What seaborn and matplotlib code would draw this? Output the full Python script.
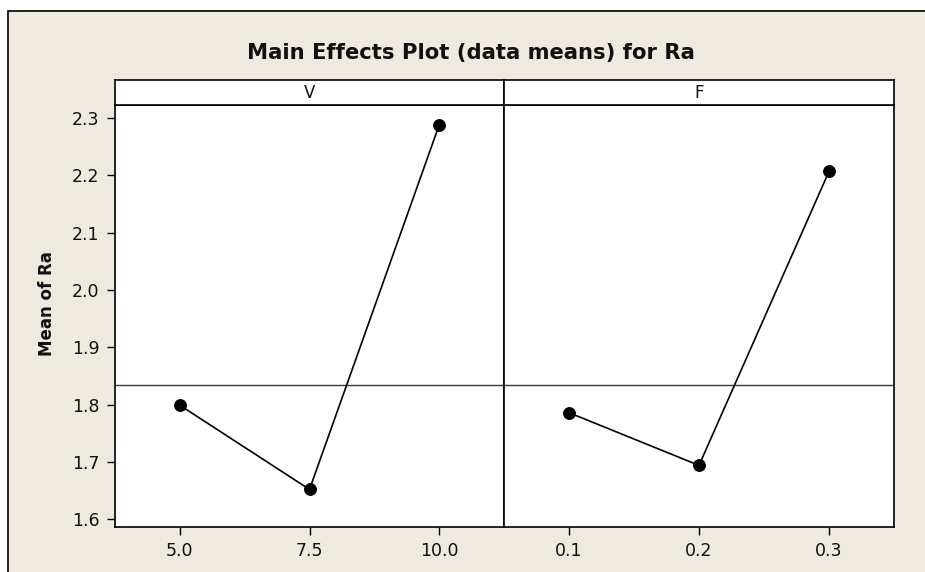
import matplotlib
matplotlib.use("Agg")
import matplotlib.pyplot as plt
import seaborn as sns
import pandas as pd
from matplotlib.patches import Rectangle

# ---- data ----
V_levels = [5.0, 7.5, 10.0]
V_means = [1.799, 1.652, 2.288]
F_levels = [0.1, 0.2, 0.3]
F_means = [1.786, 1.694, 2.207]
grand_mean = 1.835
V_ticklabels = ["5.0", "7.5", "10.0"]
F_ticklabels = ["0.1", "0.2", "0.3"]
y_ticks = [1.6, 1.7, 1.8, 1.9, 2.0, 2.1, 2.2, 2.3]
title = "Main Effects Plot (data means) for Ra"
ylabel = "Mean of Ra"

sns.set_theme(style="white")
plt.rcParams["font.family"] = ["DejaVu Sans"]

W, H = 925, 572
BG = "#EEEAE0"

def fx(px):
    return px / W

def fy(py):
    return 1 - py / H

fig = plt.figure(figsize=(W / 100, H / 100), dpi=100, facecolor="white")
fig.patches.append(Rectangle((fx(8), -0.1), 1.2, fy(11) + 0.1,
                             transform=fig.transFigure, facecolor=BG,
                             edgecolor="black", linewidth=1.2, zorder=-10))

left, mid, right = 115, 504, 894
top, bottom = 105, 526.7
strip_top = 80

ax1 = fig.add_axes([fx(left), fy(bottom), fx(mid) - fx(left), fy(top) - fy(bottom)])
ax2 = fig.add_axes([fx(mid), fy(bottom), fx(right) - fx(mid), fy(top) - fy(bottom)], sharey=ax1)
s1 = fig.add_axes([fx(left), fy(top), fx(mid) - fx(left), fy(strip_top) - fy(top)])
s2 = fig.add_axes([fx(mid), fy(top), fx(right) - fx(mid), fy(strip_top) - fy(top)])

dfV = pd.DataFrame({"level": V_levels, "mean": V_means})
dfF = pd.DataFrame({"level": F_levels, "mean": F_means})

for ax, df, lv, tl, xl in [(ax1, dfV, V_levels, V_ticklabels, (3.75, 11.25)),
                           (ax2, dfF, F_levels, F_ticklabels, (0.05, 0.35))]:
    ax.set_facecolor("white")
    ax.axhline(grand_mean, color="#3a3a3a", linewidth=1.0, zorder=1)
    sns.lineplot(data=df, x="level", y="mean", ax=ax, color="black",
                 marker="o", markersize=8.5, markeredgecolor="black",
                 linewidth=1.2, zorder=3)
    ax.set_xlim(*xl)
    ax.set_xticks(lv)
    ax.set_xticklabels(tl)
    ax.set_xlabel("")
    ax.set_ylabel("")
    for sp in ax.spines.values():
        sp.set_visible(True)
        sp.set_color("black")
        sp.set_linewidth(1.2)
    ax.tick_params(axis="both", direction="out", length=6, width=1,
                   color="black", labelsize=12.5, labelcolor="#111111",
                   bottom=True, left=True, pad=5)

ax1.set_ylim(1.587, 2.323)
ax1.set_yticks(y_ticks)
ax1.set_yticklabels([f"{v:.1f}" for v in y_ticks])
ax2.tick_params(axis="y", left=False, labelleft=False)
ax1.set_ylabel(ylabel, fontweight="bold", fontsize=12, color="#111111")
ax1.yaxis.set_label_coords(-0.152, 0.53)

for s, lab in [(s1, "V"), (s2, "F")]:
    s.set_facecolor("white")
    s.set_xticks([])
    s.set_yticks([])
    for sp in s.spines.values():
        sp.set_visible(True)
        sp.set_color("black")
        sp.set_linewidth(1.2)
    s.text(0.5, 0.5, lab, ha="center", va="center", fontsize=12,
           color="#111111", transform=s.transAxes)

fig.text(fx(471), fy(53), title, ha="center", va="center",
         fontweight="bold", fontsize=15.2, color="#111111")

fig.savefig("out.png", dpi=100, facecolor="white")
